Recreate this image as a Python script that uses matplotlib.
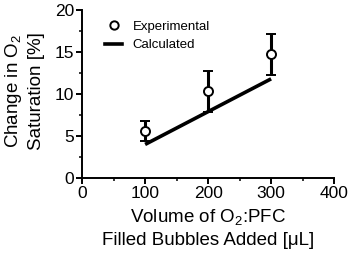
import matplotlib
matplotlib.use("Agg")
import matplotlib.pyplot as plt
from matplotlib.lines import Line2D
from matplotlib.ticker import MultipleLocator

plt.rcParams["font.family"] = ["Liberation Sans", "DejaVu Sans"]
plt.rcParams["mathtext.fontset"] = "custom"
plt.rcParams["mathtext.rm"] = "Liberation Sans"

# experimental points (mean +/- sd) and calculated line
vol = [100, 200, 300]
exp_mean = [5.6, 10.3, 14.7]
exp_err = [1.2, 2.4, 2.4]
calc_vol = [100, 200, 300]
calc_val = [4.0, 7.9, 11.8]

fig = plt.figure(figsize=(3.48, 2.54), dpi=100)
ax = fig.add_axes([0.236, 0.299, 0.724, 0.662])

ax.plot(calc_vol, calc_val, color="black", lw=2.6, solid_capstyle="butt", zorder=2)
ax.errorbar(vol, exp_mean, yerr=exp_err, fmt="o", ms=6.5, mfc="white", mec="black",
            mew=1.4, ecolor="black", elinewidth=2.2, capsize=3.8, capthick=2.2, zorder=3)

ax.set_xlim(0, 400)
ax.set_ylim(0, 20)
ax.xaxis.set_major_locator(MultipleLocator(100))
ax.xaxis.set_minor_locator(MultipleLocator(50))
ax.yaxis.set_major_locator(MultipleLocator(5))
ax.yaxis.set_minor_locator(MultipleLocator(2.5))
for s in ("top", "right"):
    ax.spines[s].set_visible(False)
for s in ("left", "bottom"):
    ax.spines[s].set_linewidth(1.4)
ax.tick_params(which="major", direction="out", length=4.5, width=1.4, labelsize=12.5, pad=1)
ax.tick_params(which="minor", direction="out", length=2.5, width=1.1)

ax.set_ylabel("Change in O$_2$\nSaturation [%]", fontsize=13.5, linespacing=1.3)
ax.yaxis.label.set_va("center")
ax.yaxis.set_label_coords(-0.232, 0.52)
ax.set_xlabel("Volume of O$_2$:PFC\nFilled Bubbles Added [\u03bcL]", fontsize=13.5,
              linespacing=1.3)
ax.xaxis.label.set_va("center")
ax.xaxis.set_label_coords(0.5, -0.30)

handles = [
    Line2D([], [], ls="none", marker="o", ms=6, mfc="white", mec="black", mew=1.4),
    Line2D([], [], color="black", lw=2.6),
]
ax.legend(handles, ["Experimental", "Calculated"], loc="upper left",
          bbox_to_anchor=(0.091, 0.935), frameon=False, fontsize=9.5,
          handlelength=1.3, handletextpad=0.8, borderaxespad=0, borderpad=0,
          labelspacing=0.45)

fig.savefig("out.png", dpi=100, facecolor="white")
